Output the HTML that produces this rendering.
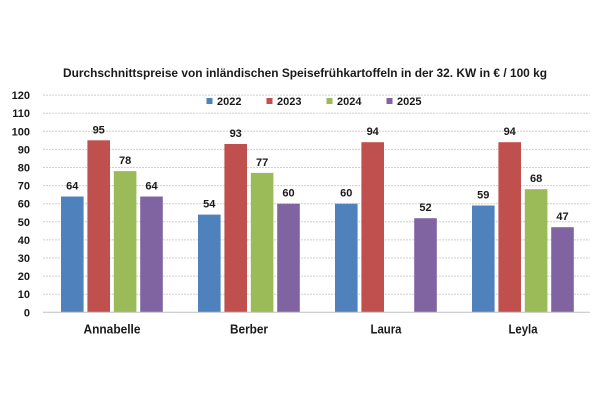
<!DOCTYPE html>
<html><head><meta charset="utf-8"><style>
html,body{margin:0;padding:0;background:#fff;}
svg{display:block;}
text{font-family:"Liberation Sans",sans-serif;font-weight:bold;fill:#1a1a1a;}
</style></head><body>
<svg width="600" height="400" viewBox="0 0 600 400" xmlns="http://www.w3.org/2000/svg">
<rect width="600" height="400" fill="#fff"/>
<text x="63" y="77" font-size="12" textLength="484" lengthAdjust="spacingAndGlyphs">Durchschnittspreise von inländischen Speisefrühkartoffeln in der 32. KW in € / 100 kg</text>
<g stroke="#cfcfcf" stroke-width="1" stroke-dasharray="2,1">
<line x1="43" x2="590" y1="294.2" y2="294.2"/>
<line x1="43" x2="590" y1="276.1" y2="276.1"/>
<line x1="43" x2="590" y1="258.0" y2="258.0"/>
<line x1="43" x2="590" y1="239.9" y2="239.9"/>
<line x1="43" x2="590" y1="221.8" y2="221.8"/>
<line x1="43" x2="590" y1="203.7" y2="203.7"/>
<line x1="43" x2="590" y1="185.6" y2="185.6"/>
<line x1="43" x2="590" y1="167.5" y2="167.5"/>
<line x1="43" x2="590" y1="149.4" y2="149.4"/>
<line x1="43" x2="590" y1="131.3" y2="131.3"/>
<line x1="43" x2="590" y1="113.2" y2="113.2"/>
<line x1="43" x2="590" y1="95.1" y2="95.1"/>
</g>
<g font-size="11" text-anchor="end">
<text x="30" y="316.3">0</text>
<text x="30" y="298.2">10</text>
<text x="30" y="280.1">20</text>
<text x="30" y="262.0">30</text>
<text x="30" y="243.9">40</text>
<text x="30" y="225.8">50</text>
<text x="30" y="207.7">60</text>
<text x="30" y="189.6">70</text>
<text x="30" y="171.5">80</text>
<text x="30" y="153.4">90</text>
<text x="30" y="135.3">100</text>
<text x="30" y="117.2">110</text>
<text x="30" y="99.1">120</text>
</g>
<!-- legend -->
<rect x="206.5" y="98" width="6" height="6" fill="#4F81BD"/>
<text x="217" y="105" font-size="11">2022</text>
<rect x="266.5" y="98" width="6" height="6" fill="#C0504D"/>
<text x="277" y="105" font-size="11">2023</text>
<rect x="326.5" y="98" width="6" height="6" fill="#9BBB59"/>
<text x="337" y="105" font-size="11">2024</text>
<rect x="386.5" y="98" width="6" height="6" fill="#8064A2"/>
<text x="397" y="105" font-size="11">2025</text>
<!-- bars -->
<g>
<rect x="61" y="196.5" width="22.6" height="115.8" fill="#4F81BD"/>
<rect x="87.4" y="140.3" width="22.6" height="172" fill="#C0504D"/>
<rect x="113.8" y="171.1" width="22.6" height="141.2" fill="#9BBB59"/>
<rect x="140.2" y="196.5" width="22.6" height="115.8" fill="#8064A2"/>

<rect x="198" y="214.6" width="22.6" height="97.7" fill="#4F81BD"/>
<rect x="224.4" y="144.0" width="22.6" height="168.3" fill="#C0504D"/>
<rect x="250.8" y="172.9" width="22.6" height="139.4" fill="#9BBB59"/>
<rect x="277.2" y="203.7" width="22.6" height="108.6" fill="#8064A2"/>

<rect x="335" y="203.7" width="22.6" height="108.6" fill="#4F81BD"/>
<rect x="361.4" y="142.2" width="22.6" height="170.1" fill="#C0504D"/>
<rect x="414.2" y="218.2" width="22.6" height="94.1" fill="#8064A2"/>

<rect x="472" y="205.5" width="22.6" height="106.8" fill="#4F81BD"/>
<rect x="498.4" y="142.2" width="22.6" height="170.1" fill="#C0504D"/>
<rect x="524.8" y="189.2" width="22.6" height="123.1" fill="#9BBB59"/>
<rect x="551.2" y="227.2" width="22.6" height="85.1" fill="#8064A2"/>
</g>
<line x1="43" x2="590" y1="312.3" y2="312.3" stroke="#bfbfbf" stroke-width="1"/>
<!-- value labels -->
<g font-size="11" text-anchor="middle">
<text x="72.3" y="189.5">64</text>
<text x="98.7" y="133.3">95</text>
<text x="125.1" y="164.1">78</text>
<text x="151.5" y="189.5">64</text>

<text x="209.3" y="207.6">54</text>
<text x="235.7" y="137.0">93</text>
<text x="262.1" y="165.9">77</text>
<text x="288.5" y="196.7">60</text>

<text x="346.3" y="196.7">60</text>
<text x="372.7" y="135.2">94</text>
<text x="425.5" y="211.2">52</text>

<text x="483.3" y="198.5">59</text>
<text x="509.7" y="135.2">94</text>
<text x="536.1" y="182.2">68</text>
<text x="562.5" y="220.2">47</text>
</g>
<!-- category labels -->
<g font-size="13" text-anchor="middle">
<text x="112" y="333.5" textLength="57" lengthAdjust="spacingAndGlyphs">Annabelle</text>
<text x="249" y="333.5" textLength="38" lengthAdjust="spacingAndGlyphs">Berber</text>
<text x="386" y="333.5" textLength="31" lengthAdjust="spacingAndGlyphs">Laura</text>
<text x="523" y="333.5" textLength="29" lengthAdjust="spacingAndGlyphs">Leyla</text>
</g>
</svg>
</body></html>
